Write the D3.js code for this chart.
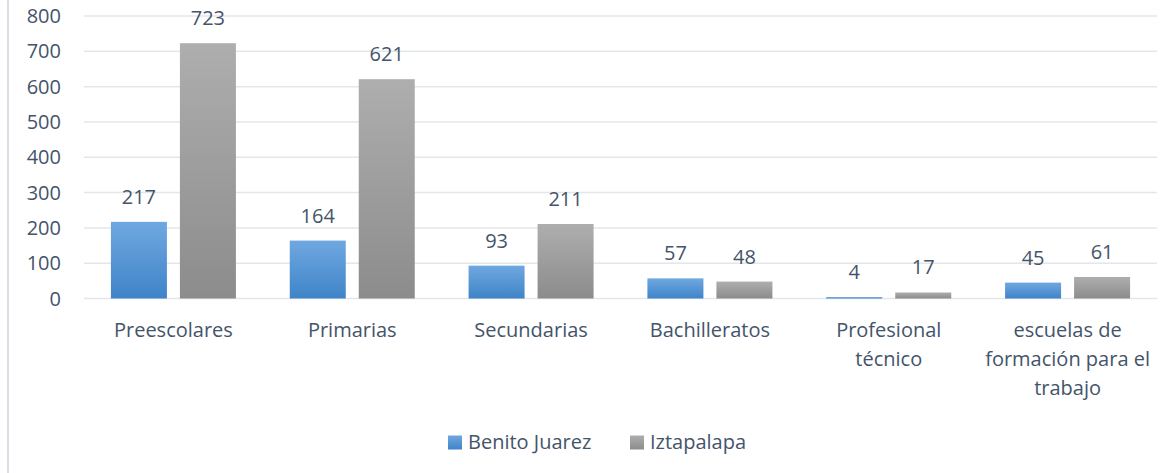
<!DOCTYPE html>
<html>
<head>
<meta charset="utf-8">
<script src="https://cdn.jsdelivr.net/npm/d3@7"></script>
<style>
  body { margin: 0; background: #fff; }
  svg { display: block; font-family: "Open Sans", "Noto Sans", sans-serif; }
</style>
</head>
<body>
<svg id="chart"></svg>
<script>
// Chart data
const categories = ['Preescolares', 'Primarias', 'Secundarias', 'Bachilleratos',
    'Profesional técnico', 'escuelas de formación para el trabajo'];
const seriesNames = ['Benito Juarez', 'Iztapalapa'];
const benitoJuarez = [217, 164, 93, 57, 4, 45];
const iztapalapa = [723, 621, 211, 48, 17, 61];
const yTicks = [0, 100, 200, 300, 400, 500, 600, 700, 800];

(function() {
    'use strict';

    const width = 1173, height = 473;
    const margin = { top: 16, right: 16, bottom: 175, left: 84 };
    const textColor = '#44546A';
    const gridColor = '#E3E6EA';
    const fontSize = '20px';

    const svg = d3.select('#chart').attr('width', width).attr('height', height);

    const defs = svg.append('defs');
    const grads = [
        { id: 'gBlue', top: '#6FA8E0', bottom: '#3F84C8' },
        { id: 'gGray', top: '#AEAEAE', bottom: '#8C8C8C' }
    ];
    grads.forEach(g => {
        const lg = defs.append('linearGradient').attr('id', g.id)
            .attr('x1', 0).attr('y1', 0).attr('x2', 0).attr('y2', 1);
        lg.append('stop').attr('offset', '0%').attr('stop-color', g.top);
        lg.append('stop').attr('offset', '100%').attr('stop-color', g.bottom);
    });

    // left frame edge
    svg.append('line')
        .attr('x1', 8).attr('x2', 8).attr('y1', 0).attr('y2', height)
        .attr('stroke', '#D9DEE4').attr('stroke-width', 2);

    // category band: bars 56px wide with a 13px gap, centred in each band
    const x0 = d3.scaleBand()
        .domain(categories)
        .range([margin.left, width - margin.right]);
    const step = x0.bandwidth();
    const barW = 56, gap = 13;
    const center = c => x0(c) + step / 2;

    const y = d3.scaleLinear().domain([0, 800]).range([298.5, 16]);

    // gridlines
    svg.append('g').selectAll('line').data(yTicks).enter().append('line')
        .attr('x1', margin.left).attr('x2', width - margin.right)
        .attr('y1', d => y(d)).attr('y2', d => y(d))
        .attr('stroke', gridColor).attr('stroke-width', 1.5);

    // y axis labels
    svg.append('g').selectAll('text').data(yTicks).enter().append('text')
        .attr('x', 61).attr('y', d => y(d))
        .attr('dy', '0.35em')
        .attr('text-anchor', 'end')
        .attr('font-size', fontSize)
        .attr('fill', textColor)
        .text(d => d);

    const series = [
        { name: seriesNames[0], values: benitoJuarez, fill: 'url(#gBlue)', offset: -(gap / 2 + barW) },
        { name: seriesNames[1], values: iztapalapa, fill: 'url(#gGray)', offset: gap / 2 }
    ];

    series.forEach(s => {
        const g = svg.append('g');
        g.selectAll('rect').data(categories).enter().append('rect')
            .attr('x', c => center(c) + s.offset)
            .attr('width', barW)
            .attr('y', (c, i) => y(s.values[i]))
            .attr('height', (c, i) => y(0) - y(s.values[i]))
            .attr('fill', s.fill);

        g.selectAll('text').data(categories).enter().append('text')
            .attr('x', c => center(c) + s.offset + barW / 2)
            .attr('y', (c, i) => y(s.values[i]) - 25)
            .attr('dy', '0.35em')
            .attr('text-anchor', 'middle')
            .attr('font-size', fontSize)
            .attr('fill', textColor)
            .text((c, i) => s.values[i]);
    });

    // category labels with wrapping
    const catG = svg.append('g');
    categories.forEach(c => {
        const words = c.split(' ');
        const lines = [];
        let line = '';
        const maxW = step - 6;
        const tmp = catG.append('text').attr('font-size', fontSize);
        words.forEach(w => {
            const test = line ? line + ' ' + w : w;
            tmp.text(test);
            if (tmp.node().getComputedTextLength() > maxW && line) {
                lines.push(line);
                line = w;
            } else {
                line = test;
            }
        });
        lines.push(line);
        tmp.remove();
        const t = catG.append('text')
            .attr('text-anchor', 'middle')
            .attr('font-size', fontSize)
            .attr('fill', textColor);
        lines.forEach((l, i) => {
            t.append('tspan').attr('x', center(c)).attr('y', 330 + i * 29)
                .attr('dy', '0.35em').text(l);
        });
    });

    // legend
    const legend = svg.append('g');
    const legendItems = [
        { name: seriesNames[0], fill: 'url(#gBlue)', x: 448 },
        { name: seriesNames[1], fill: 'url(#gGray)', x: 630 }
    ];
    legendItems.forEach(d => {
        legend.append('rect').attr('x', d.x).attr('y', 435.5)
            .attr('width', 14).attr('height', 14).attr('fill', d.fill);
        legend.append('text').attr('x', d.x + 20).attr('y', 442)
            .attr('dy', '0.35em').attr('font-size', fontSize)
            .attr('fill', textColor).text(d.name);
    });
})();
</script>
</body>
</html>
